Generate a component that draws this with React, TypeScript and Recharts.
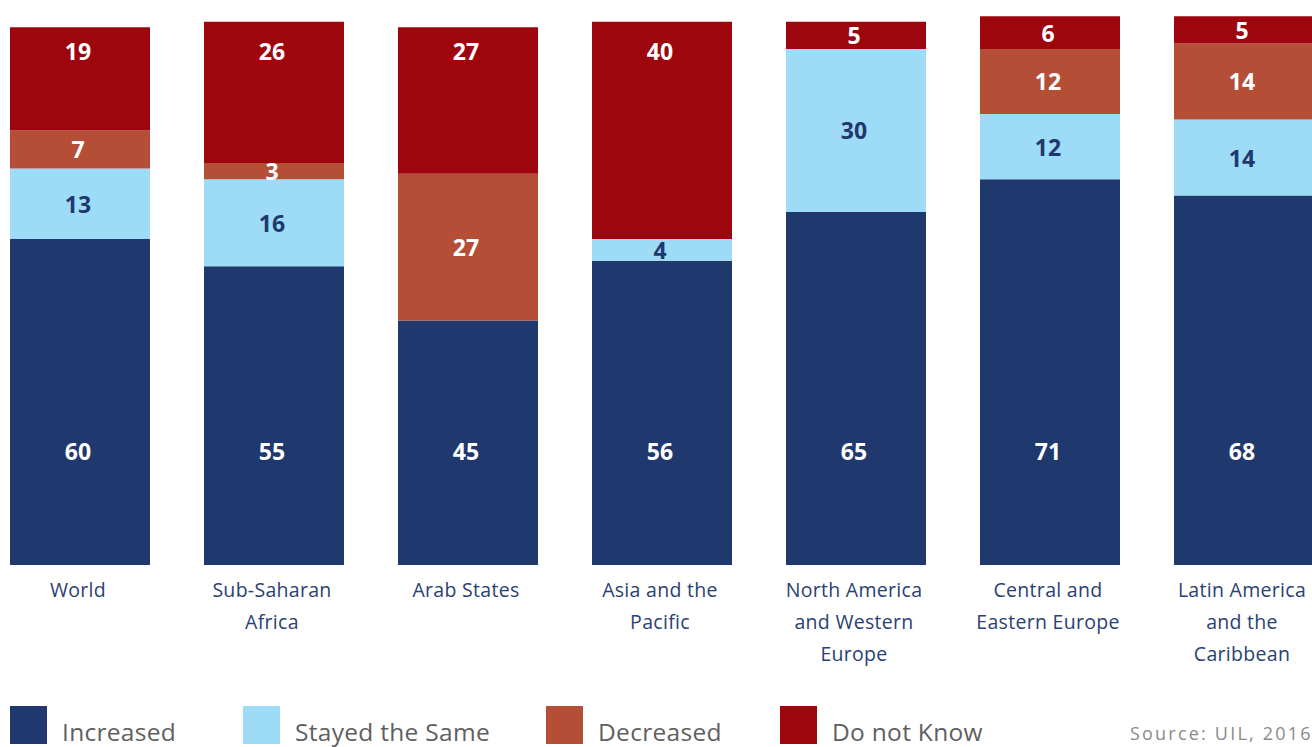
import { Bar, BarChart, LabelList, XAxis, YAxis } from 'recharts'

const regions = [
  'World',
  'Sub-Saharan Africa',
  'Arab States',
  'Asia and the Pacific',
  'North America and Western Europe',
  'Central and Eastern Europe',
  'Latin America and the Caribbean',
]
const regionLines = [
  ['World'],
  ['Sub-Saharan', 'Africa'],
  ['Arab States'],
  ['Asia and the', 'Pacific'],
  ['North America', 'and Western', 'Europe'],
  ['Central and', 'Eastern Europe'],
  ['Latin America', 'and the', 'Caribbean'],
]
const increased = [60, 55, 45, 56, 65, 71, 68]
const stayedSame = [13, 16, 0, 4, 30, 12, 14]
const decreased = [7, 3, 27, 0, 0, 12, 14]
const doNotKnow = [19, 26, 27, 40, 5, 6, 5]

const COLORS = {
  increased: '#1f386e',
  stayed: '#9ddbf7',
  decreased: '#b44e37',
  unknown: '#9e060e',
}

const data = regions.map((region, i) => ({
  region,
  increased: increased[i],
  stayed: stayedSame[i] || null,
  decreased: decreased[i] || null,
  unknown: doNotKnow[i],
}))

const legendItems = [
  { label: 'Increased', color: COLORS.increased, x: 10 },
  { label: 'Stayed the Same', color: COLORS.stayed, x: 243 },
  { label: 'Decreased', color: COLORS.decreased, x: 546 },
  { label: 'Do not Know', color: COLORS.unknown, x: 780 },
]

type Mode = 'bottom' | 'center' | 'top'

function makeLabel(fill: string, mode: Mode) {
  return (props: any) => {
    const { x, y, width, height, value } = props
    if (!value) return null
    let cy = y + height / 2
    if (mode === 'bottom' && height > 200) cy = y + height - 114
    if (mode === 'top' && height > 60) cy = 51
    return (
      <text
        x={x + width / 2 - 2}
        y={cy}
        fill={fill}
        textAnchor="middle"
        dominantBaseline="central"
        fontFamily="'Open Sans', sans-serif"
        fontWeight={700}
        fontSize={23}
      >
        {value}
      </text>
    )
  }
}

function RegionTick(props: any) {
  const { x, y, payload } = props
  const lines = regionLines[payload.index] ?? [payload.value]
  return (
    <g>
      {lines.map((line, i) => (
        <text
          key={line}
          x={x - 2}
          y={y + 16 + i * 32}
          fill="#2a4173"
          textAnchor="middle"
          dominantBaseline="central"
          fontFamily="'Open Sans', sans-serif"
          fontSize={19.5}
          letterSpacing={0.3}
        >
          {line}
        </text>
      ))}
    </g>
  )
}

export default function App() {
  return (
    <div
      style={{
        position: 'fixed',
        left: 0,
        top: 0,
        width: 1312,
        height: 747,
        overflow: 'hidden',
        background: '#fff',
      }}
    >
      <div style={{ position: 'absolute', left: -17, top: 0 }}>
        <BarChart
          width={1358}
          height={747}
          data={data}
          margin={{ top: 0, right: 0, bottom: 0, left: 0 }}
          barSize={140}
        >
          <XAxis
            dataKey="region"
            axisLine={false}
            tickLine={false}
            interval={0}
            height={182}
            tick={<RegionTick />}
          />
          <YAxis hide domain={[0, 104]} />
          <Bar dataKey="increased" stackId="a" fill={COLORS.increased} isAnimationActive={false}>
            <LabelList dataKey="increased" content={makeLabel('#ffffff', 'bottom')} />
          </Bar>
          <Bar dataKey="stayed" stackId="a" fill={COLORS.stayed} isAnimationActive={false}>
            <LabelList dataKey="stayed" content={makeLabel('#1f386e', 'center')} />
          </Bar>
          <Bar dataKey="decreased" stackId="a" fill={COLORS.decreased} isAnimationActive={false}>
            <LabelList dataKey="decreased" content={makeLabel('#ffffff', 'center')} />
          </Bar>
          <Bar dataKey="unknown" stackId="a" fill={COLORS.unknown} isAnimationActive={false}>
            <LabelList dataKey="unknown" content={makeLabel('#ffffff', 'top')} />
          </Bar>
        </BarChart>
      </div>
      {legendItems.map((item) => (
        <div
          key={item.label}
          style={{ position: 'absolute', left: item.x, top: 706, height: 40 }}
        >
          <div
            style={{
              position: 'absolute',
              left: 0,
              top: 0,
              width: 37,
              height: 38,
              background: item.color,
            }}
          />
          <div
            style={{
              position: 'absolute',
              left: 52,
              top: 9,
              whiteSpace: 'nowrap',
              fontFamily: "'Open Sans', sans-serif",
              fontSize: 24.5,
              letterSpacing: 0.3,
              lineHeight: '34px',
              color: '#5f5f5f',
            }}
          >
            {item.label}
          </div>
        </div>
      ))}
      <div
        style={{
          position: 'absolute',
          left: 1130,
          top: 721,
          whiteSpace: 'nowrap',
          fontFamily: "'Open Sans', sans-serif",
          fontSize: 18,
          letterSpacing: 2.2,
          color: '#8a8a8a',
        }}
      >
        Source: UIL, 2016
      </div>
    </div>
  )
}
